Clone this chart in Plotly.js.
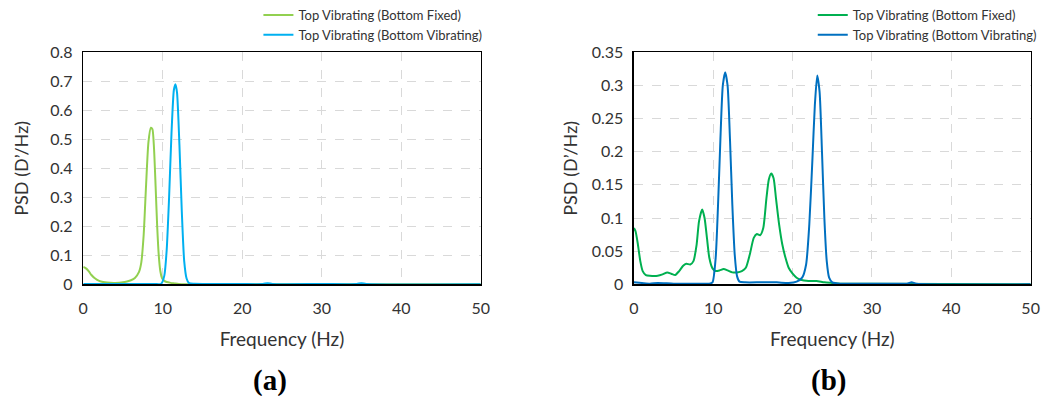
<!DOCTYPE html>
<html>
<head>
<meta charset="utf-8">
<script src="https://cdn.plot.ly/plotly-3.0.1.min.js"></script>
<style>html,body{margin:0;padding:0;background:#fff;}#chart{width:1042px;height:396px;}</style>
</head>
<body>
<div id="chart"></div>
<script>
// Panel (a)
const aFixedX = [0,0.3,0.7,1,1.5,2,2.5,3,4,5,5.5,6,6.5,7,7.3,7.6,7.9,8.2,8.5,8.7,8.9,9.1,9.3,9.5,9.7,9.9,10.2,10.5,11,11.5,12,13,14,50];
const aFixedY = [0.06,0.056,0.045,0.033,0.02,0.012,0.008,0.006,0.005,0.007,0.01,0.014,0.022,0.042,0.075,0.17,0.34,0.49,0.54,0.535,0.47,0.34,0.2,0.1,0.045,0.022,0.012,0.008,0.005,0.003,0.001,0,0,0];
const aVibX = [0,9,9.8,10.2,10.5,10.8,11.1,11.4,11.6,11.8,12.1,12.4,12.7,13,13.3,14,20,22.6,23.2,23.8,30,34.4,35,35.6,50];
const aVibY = [0.001,0.001,0.002,0.03,0.12,0.3,0.52,0.67,0.69,0.66,0.48,0.25,0.08,0.02,0.004,0.002,0.001,0.001,0.004,0.001,0.001,0.001,0.004,0.001,0];
// Panel (b)
const bFixedX = [0,0.2,0.5,0.8,1.1,1.5,2,3,3.6,4.2,4.7,5.2,5.7,6.2,6.6,7.1,7.5,7.9,8.2,8.6,8.9,9.2,9.5,9.9,10.3,10.8,11.3,11.8,12.4,13,13.6,14.1,14.6,15.1,15.5,15.9,16.3,16.7,17.0,17.3,17.6,17.9,18.3,18.7,19.1,19.5,20,20.5,21,22,23,24,25,26,30,50];
const bFixedY = [0.085,0.08,0.06,0.035,0.02,0.014,0.013,0.013,0.015,0.018,0.016,0.014,0.02,0.028,0.031,0.03,0.035,0.06,0.095,0.113,0.1,0.07,0.04,0.024,0.02,0.021,0.023,0.021,0.018,0.018,0.02,0.025,0.045,0.07,0.076,0.074,0.085,0.13,0.158,0.167,0.16,0.13,0.09,0.06,0.04,0.025,0.016,0.01,0.007,0.005,0.005,0.003,0.002,0.001,0.001,0];
const bVibX = [0,1,2,3,5,8,9.5,9.9,10.3,10.6,10.9,11.2,11.5,11.8,12.1,12.4,12.7,13,13.3,14,16,18,19.5,20.5,21.2,21.7,22.1,22.5,22.8,23.1,23.4,23.7,24.0,24.3,24.6,25,26,30,34.4,35,35.6,50];
const bVibY = [0.003,0.002,0.001,0.002,0.001,0.001,0.001,0.003,0.04,0.12,0.22,0.3,0.32,0.3,0.22,0.12,0.045,0.012,0.004,0.003,0.003,0.003,0.002,0.004,0.01,0.03,0.09,0.19,0.27,0.315,0.29,0.2,0.1,0.035,0.01,0.003,0.001,0.001,0.001,0.003,0.001,0];

const legendName1 = 'Top Vibrating (Bottom Fixed)';
const legendName2 = 'Top Vibrating (Bottom Vibrating)';
const xTicks = [0,10,20,30,40,50];
const aYTicks = [0,0.1,0.2,0.3,0.4,0.5,0.6,0.7,0.8];
const bYTicks = [0,0.05,0.1,0.15,0.2,0.25,0.3,0.35];

const FONT = 'Lato, "Open Sans", sans-serif';
const traces = [
  {x:aFixedX, y:aFixedY, xaxis:'x', yaxis:'y', name:legendName1, mode:'lines', line:{color:'#92D050', width:2, shape:'spline', smoothing:0.6}, legend:'legend'},
  {x:aVibX, y:aVibY, xaxis:'x', yaxis:'y', name:legendName2, mode:'lines', line:{color:'#00B0F0', width:2, shape:'spline', smoothing:0.6}, legend:'legend'},
  {x:bFixedX, y:bFixedY, xaxis:'x2', yaxis:'y2', name:legendName1, mode:'lines', line:{color:'#00B050', width:2, shape:'spline', smoothing:0.6}, legend:'legend2'},
  {x:bVibX, y:bVibY, xaxis:'x2', yaxis:'y2', name:legendName2, mode:'lines', line:{color:'#0070C0', width:2, shape:'spline', smoothing:0.6}, legend:'legend2'}
];

function xax(domain, anchor){
  return {domain:domain, anchor:anchor, range:[0,50], tickvals:xTicks, showgrid:true, gridcolor:'#d9d9d9', griddash:'dash', gridwidth:1,
    showline:true, linecolor:'#000', linewidth:1.5, mirror:true, zeroline:false, ticks:'', ticklabelstandoff:9,
    tickfont:{family:FONT, size:16, color:'#333'}, automargin:false,
    title:{text:'Frequency (Hz)', font:{family:FONT, size:19, color:'#333'}, standoff:16}};
}
function yax(domain, anchor, range, ticks, standoff){
  return {domain:domain, anchor:anchor, range:range, tickvals:ticks, ticktext:ticks.map(String), showgrid:true, gridcolor:'#d9d9d9', griddash:'dash', gridwidth:1,
    showline:true, linecolor:'#000', linewidth:1.5, mirror:true, zeroline:false, ticks:'', ticklabelstandoff:6,
    tickfont:{family:FONT, size:16, color:'#333'}, automargin:false,
    title:{text:'PSD (D’/Hz)', font:{family:FONT, size:18, color:'#333'}, standoff:standoff}};
}
const yDom = [0.282, 0.868];
const layout = {
  width:1042, height:396, margin:{l:0,r:0,t:0,b:0,autoexpand:false}, paper_bgcolor:'#fff', plot_bgcolor:'#fff',
  xaxis: xax([0.0799,0.4613],'y'),
  yaxis: yax(yDom,'x',[0,0.8],aYTicks,17),
  xaxis2: xax([0.6084,0.9891],'y2'),
  yaxis2: yax(yDom,'x2',[0,0.35],bYTicks,9),
  legend:{x:0.248, y:1.0, xanchor:'left', yanchor:'top', bgcolor:'rgba(0,0,0,0)', font:{family:FONT, size:13, color:'#333'}, itemwidth:30, tracegroupgap:0},
  legend2:{x:0.780, y:1.0, xanchor:'left', yanchor:'top', bgcolor:'rgba(0,0,0,0)', font:{family:FONT, size:13, color:'#333'}, itemwidth:30, tracegroupgap:0},
  annotations:[
    {text:'<b>(a)</b>', xref:'paper', yref:'paper', x:270/1042, y:1-380/396, yanchor:'middle', xanchor:'center', showarrow:false, font:{family:'"Liberation Serif", serif', size:29, color:'#000'}},
    {text:'<b>(b)</b>', xref:'paper', yref:'paper', x:828/1042, y:1-380/396, yanchor:'middle', xanchor:'center', showarrow:false, font:{family:'"Liberation Serif", serif', size:29, color:'#000'}}
  ],
  showlegend:true
};
Plotly.newPlot('chart', traces, layout, {displayModeBar:false, staticPlot:true});
</script>
</body>
</html>
